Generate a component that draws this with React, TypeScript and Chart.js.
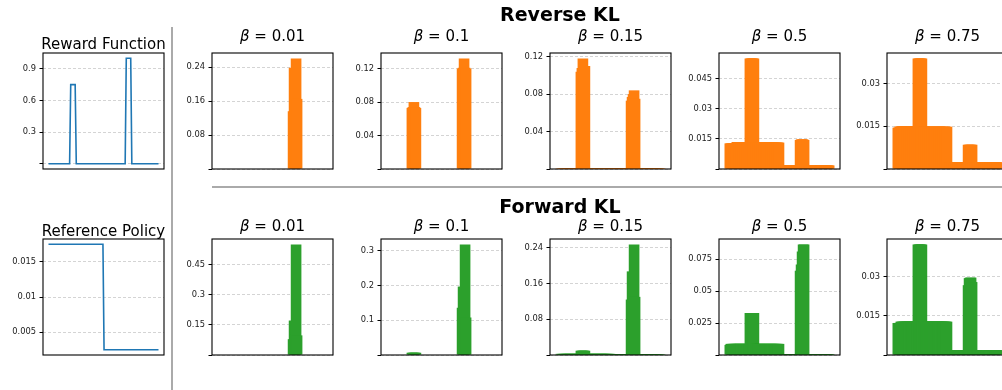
import React, { useEffect, useRef } from 'react';
import { Chart, registerables } from 'chart.js';

Chart.register(...registerables);

type Run = [number, number];

const POINT_COUNT = 100;
const BAR_WIDTH = 10.6; // bar width in index units (bars overlap)

// ---- data (runs of [count, value] along the 100-point domain) ----
const rewardRuns: Run[] = [[20, 0], [5, 0.75], [45, 0], [5, 1], [25, 0]];
const refPolicyRuns: Run[] = [[50, 0.0175], [50, 0.0025]];

const rewardTicks = [0, 0.3, 0.6, 0.9];
const rewardTickLabels = ['', '0.3', '0.6', '0.9'];
const refTicks = [0.005, 0.01, 0.015];
const refTickLabels = ['0.005', '0.01', '0.015'];

const betaLabels = ['0.01', '0.1', '0.15', '0.5', '0.75'];

// Reverse KL policies
const reverse001: Run[] = [[70, 0], [1, 0.136], [1, 0.238], [1, 0.2], [1, 0.26], [1, 0.165], [25, 0]];
const reverse01: Run[] = [[20, 0], [1, 0.073], [1, 0.074], [1, 0.08], [1, 0.074], [1, 0.073], [45, 0], [1, 0.12], [1, 0.121], [1, 0.132], [1, 0.121], [1, 0.12], [25, 0]];
const reverse015: Run[] = [[20, 0.0008], [1, 0.104], [1, 0.108], [1, 0.118], [1, 0.11], [1, 0.11], [25, 0.0008], [20, 0.0001], [1, 0.073], [1, 0.077], [1, 0.08], [1, 0.084], [1, 0.075], [25, 0.0001]];
const reverse05: Run[] = [[7, 0.0128], [13, 0.0135], [5, 0.0552], [25, 0.0132], [20, 0.002], [1, 0.0145], [3, 0.0148], [1, 0.0145], [6, 0.002], [19, 0.0018]];
const reverse075: Run[] = [[2, 0.0145], [18, 0.0149], [5, 0.0387], [25, 0.0148], [20, 0.0024], [5, 0.0085], [25, 0.0024]];

// Forward KL policies
const forward001: Run[] = [[70, 0], [1, 0.079], [1, 0.172], [1, 0.1], [1, 0.551], [1, 0.098], [25, 0]];
const forward01: Run[] = [[20, 0], [5, 0.0065], [45, 0], [1, 0.136], [1, 0.197], [1, 0.19], [1, 0.318], [1, 0.108], [25, 0]];
const forward015: Run[] = [[20, 0.0025], [5, 0.0096], [25, 0.0025], [20, 0.0002], [1, 0.124], [1, 0.187], [1, 0.174], [1, 0.247], [1, 0.13], [25, 0.0002]];
const forward05: Run[] = [[1, 0.0079], [19, 0.0087], [5, 0.0329], [25, 0.0087], [20, 0.0008], [1, 0.066], [1, 0.0708], [1, 0.081], [1, 0.0865], [1, 0.0865], [25, 0.0008]];
const forward075: Run[] = [[3, 0.0123], [17, 0.0128], [5, 0.0424], [25, 0.0128], [20, 0.0019], [1, 0.0268], [1, 0.0295], [1, 0.0297], [1, 0.0297], [1, 0.028], [25, 0.0019]];

const reverseTicks = [[0, 0.08, 0.16, 0.24], [0, 0.04, 0.08, 0.12], [0, 0.04, 0.08, 0.12], [0, 0.015, 0.03, 0.045], [0, 0.015, 0.03]];
const reverseTickLabels = [['', '0.08', '0.16', '0.24'], ['', '0.04', '0.08', '0.12'], ['', '0.04', '0.08', '0.12'], ['', '0.015', '0.03', '0.045'], ['', '0.015', '0.03']];
const forwardTicks = [[0, 0.15, 0.3, 0.45], [0, 0.1, 0.2, 0.3], [0, 0.08, 0.16, 0.24], [0, 0.025, 0.05, 0.075], [0, 0.015, 0.03]];
const forwardTickLabels = [['', '0.15', '0.3', '0.45'], ['', '0.1', '0.2', '0.3'], ['', '0.08', '0.16', '0.24'], ['', '0.025', '0.05', '0.075'], ['', '0.015', '0.03']];

const reverseRuns = [reverse001, reverse01, reverse015, reverse05, reverse075];
const forwardRuns = [forward001, forward01, forward015, forward05, forward075];

// ---- colours / fonts ----
const BLUE = '#1f77b4';
const ORANGE = '#ff7f0e';
const GREEN = '#2ca02c';
const FONT = '"DejaVu Sans", "Liberation Sans", sans-serif';

// ---- layout ----
const BOX_W = 121;
const BOX_H = 116;
const COL_LEFTS = [43, 212, 381, 550, 719, 887];
const ROW_TOPS = [53, 239];
const PAD_L = 50;
const PAD_T = 45;
const PAD_R = 22;
const PAD_B = 10;

function expand(runs: Run[]): number[] {
  const out: number[] = [];
  runs.forEach(([count, value]) => {
    for (let k = 0; k < count; k++) out.push(value);
  });
  return out;
}

type TitlePart = { text: string; italic?: boolean };

type PanelSpec = {
  key: string;
  kind: 'line' | 'bar';
  values: number[];
  color: string;
  ticks: number[];
  tickLabels: string[];
  title: TitlePart[];
  titleBaseline: number; // absolute page y
  boxLeft: number;
  boxTop: number;
};

function Panel({ spec }: { spec: PanelSpec }) {
  const ref = useRef<HTMLCanvasElement | null>(null);
  const cw = PAD_L + BOX_W + PAD_R;
  const ch = PAD_T + BOX_H + PAD_B;
  const left = spec.boxLeft - PAD_L;
  const top = spec.boxTop - PAD_T;

  useEffect(() => {
    if (!ref.current) return;
    const pts = spec.values.map((v, i) => ({ x: i, y: v }));
    const n = spec.values.length;
    let xMin: number, xMax: number, yMin: number, yMax: number;
    const vmax = Math.max(...spec.values);
    const vmin = Math.min(...spec.values);
    if (spec.kind === 'bar') {
      const span = n - 1 + BAR_WIDTH;
      xMin = -BAR_WIDTH / 2 - 0.05 * span;
      xMax = n - 1 + BAR_WIDTH / 2 + 0.05 * span;
      yMin = 0;
      yMax = vmax * 1.05;
    } else {
      const span = n - 1;
      xMin = -0.05 * span;
      xMax = n - 1 + 0.05 * span;
      const r = vmax - vmin;
      yMin = vmin - 0.05 * r;
      yMax = vmax + 0.05 * r;
    }
    const titleY = spec.titleBaseline - top;

    const framePlugin = {
      id: 'frameAndTitle',
      afterDraw(chart: any) {
        const { ctx, chartArea: a } = chart;
        ctx.save();
        ctx.strokeStyle = '#000';
        ctx.lineWidth = 1.1;
        ctx.strokeRect(a.left, a.top, a.right - a.left, a.bottom - a.top);
        // title
        const normal = `15px ${FONT}`;
        const italic = `italic 15px ${FONT}`;
        let total = 0;
        const widths = spec.title.map((p) => {
          ctx.font = p.italic ? italic : normal;
          const w = ctx.measureText(p.text).width;
          total += w;
          return w;
        });
        let x = (a.left + a.right) / 2 - total / 2;
        ctx.fillStyle = '#000';
        ctx.textBaseline = 'alphabetic';
        ctx.textAlign = 'left';
        spec.title.forEach((p, i) => {
          ctx.font = p.italic ? italic : normal;
          ctx.fillText(p.text, x, titleY);
          x += widths[i];
        });
        ctx.restore();
      },
    };

    const dataset: any =
      spec.kind === 'bar'
        ? {
            type: 'bar',
            data: pts,
            backgroundColor: spec.color,
            borderWidth: 0,
            categoryPercentage: BAR_WIDTH,
            barPercentage: 1,
          }
        : {
            type: 'line',
            data: pts,
            borderColor: spec.color,
            borderWidth: 1.6,
            pointRadius: 0,
            tension: 0,
            fill: false,
          };

    const chart = new Chart(ref.current, {
      type: spec.kind,
      data: { datasets: [dataset] },
      options: {
        responsive: false,
        animation: false,
        devicePixelRatio: 1,
        events: [],
        layout: { padding: { left: 0, top: PAD_T, right: PAD_R, bottom: PAD_B } },
        plugins: {
          legend: { display: false },
          tooltip: { enabled: false },
          title: { display: false },
        },
        scales: {
          x: {
            type: 'linear',
            display: false,
            min: xMin,
            max: xMax,
            offset: false,
          },
          y: {
            type: 'linear',
            min: yMin,
            max: yMax,
            afterBuildTicks: (scale: any) => {
              scale.ticks = spec.ticks.map((v) => ({ value: v }));
            },
            afterFit: (scale: any) => {
              scale.width = PAD_L;
            },
            ticks: {
              autoSkip: false,
              padding: 3.5,
              color: '#222',
              font: { family: FONT, size: 8.3 },
              callback: (_v: any, i: number) => spec.tickLabels[i],
            },
            grid: {
              color: '#cfcfcf',
              lineWidth: 0.9,
              drawTicks: true,
              tickLength: 3.5,
              tickColor: '#000',
              tickWidth: 1,
              tickBorderDash: [],
            },
            border: { display: false, dash: [3, 2] },
          },
        },
      } as any,
      plugins: [framePlugin],
    });
    return () => chart.destroy();
  }, []);

  return (
    <canvas
      ref={ref}
      width={cw}
      height={ch}
      style={{ position: 'absolute', left, top, width: cw, height: ch }}
    />
  );
}

function buildSpecs(): PanelSpec[] {
  const specs: PanelSpec[] = [];
  specs.push({
    key: 'reward',
    kind: 'line',
    values: expand(rewardRuns),
    color: BLUE,
    ticks: rewardTicks,
    tickLabels: rewardTickLabels,
    title: [{ text: 'Reward Function' }],
    titleBaseline: 49,
    boxLeft: COL_LEFTS[0],
    boxTop: ROW_TOPS[0],
  });
  specs.push({
    key: 'ref',
    kind: 'line',
    values: expand(refPolicyRuns),
    color: BLUE,
    ticks: refTicks,
    tickLabels: refTickLabels,
    title: [{ text: 'Reference Policy' }],
    titleBaseline: 236,
    boxLeft: COL_LEFTS[0],
    boxTop: ROW_TOPS[1],
  });
  betaLabels.forEach((b, i) => {
    specs.push({
      key: 'rev' + i,
      kind: 'bar',
      values: expand(reverseRuns[i]),
      color: ORANGE,
      ticks: reverseTicks[i],
      tickLabels: reverseTickLabels[i],
      title: [{ text: 'β', italic: true }, { text: ' = ' + b }],
      titleBaseline: 41,
      boxLeft: COL_LEFTS[i + 1],
      boxTop: ROW_TOPS[0],
    });
    specs.push({
      key: 'fwd' + i,
      kind: 'bar',
      values: expand(forwardRuns[i]),
      color: GREEN,
      ticks: forwardTicks[i],
      tickLabels: forwardTickLabels[i],
      title: [{ text: 'β', italic: true }, { text: ' = ' + b }],
      titleBaseline: 230.5,
      boxLeft: COL_LEFTS[i + 1],
      boxTop: ROW_TOPS[1],
    });
  });
  return specs;
}

const headingStyle = (baseline: number): React.CSSProperties => ({
  position: 'absolute',
  left: 460,
  width: 200,
  top: baseline - 0.846 * 19,
  height: 19,
  lineHeight: '19px',
  fontSize: 19,
  fontWeight: 'bold',
  fontFamily: FONT,
  textAlign: 'center',
  color: '#000',
  whiteSpace: 'nowrap',
});

export default function App() {
  const specs = buildSpecs();
  return (
    <div
      style={{
        position: 'fixed',
        left: 0,
        top: 0,
        width: 1002,
        height: 390,
        overflow: 'hidden',
        background: '#fff',
      }}
    >
      {specs.map((s) => (
        <Panel key={s.key} spec={s} />
      ))}
      <div style={headingStyle(21)}>Reverse KL</div>
      <div style={headingStyle(213)}>Forward KL</div>
      <div style={{ position: 'absolute', left: 171, top: 27, width: 2, height: 363, background: '#aaa' }} />
      <div style={{ position: 'absolute', left: 212, top: 186, width: 790, height: 2, background: '#aaa' }} />
    </div>
  );
}
